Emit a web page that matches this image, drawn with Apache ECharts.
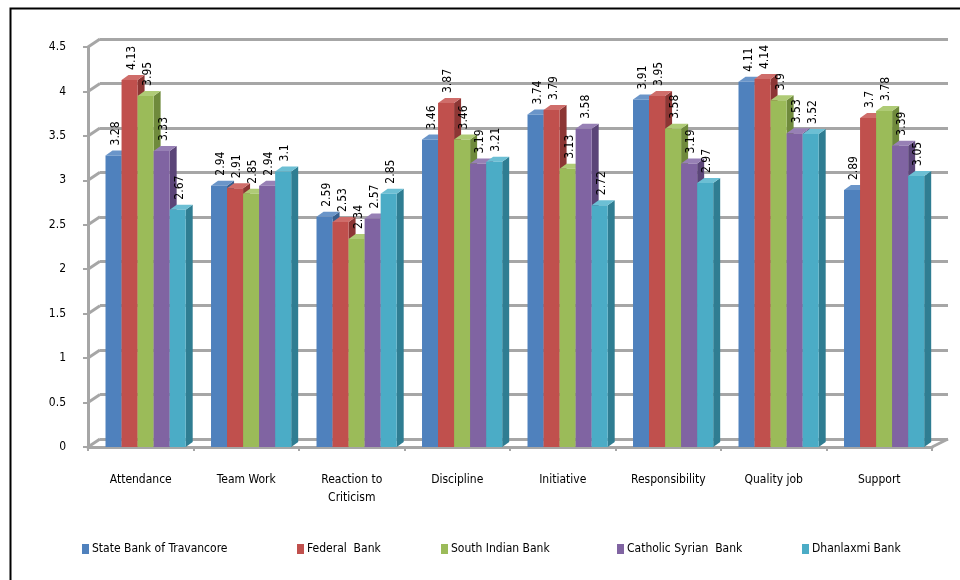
<!DOCTYPE html>
<html>
<head>
<meta charset="utf-8">
<script src="https://cdn.jsdelivr.net/npm/echarts@6/dist/echarts.min.js"></script>
<style>
  html, body { margin: 0; padding: 0; background: #fff; }
  #chart { width: 960px; height: 580px; }
</style>
</head>
<body>
<div id="chart"></div>
<script>
// Performance attribute scores by bank
const categories = ['Attendance', 'Team Work', 'Reaction to\nCriticism', 'Discipline', 'Initiative', 'Responsibility', 'Quality job', 'Support'];
const banks = ['State Bank of Travancore', 'Federal  Bank', 'South Indian Bank', 'Catholic Syrian  Bank', 'Dhanlaxmi Bank'];
const stateBankOfTravancore = [3.28, 2.94, 2.59, 3.46, 3.74, 3.91, 4.11, 2.89];
const federalBank = [4.13, 2.91, 2.53, 3.87, 3.79, 3.95, 4.14, 3.7];
const southIndianBank = [3.95, 2.85, 2.34, 3.46, 3.13, 3.58, 3.9, 3.78];
const catholicSyrianBank = [3.33, 2.94, 2.57, 3.19, 3.58, 3.19, 3.53, 3.39];
const dhanlaxmiBank = [2.67, 3.1, 2.85, 3.21, 2.72, 2.97, 3.52, 3.05];
const yTickValues = [0, 0.5, 1, 1.5, 2, 2.5, 3, 3.5, 4, 4.5];

const seriesValues = [stateBankOfTravancore, federalBank, southIndianBank, catholicSyrianBank, dhanlaxmiBank];

// front, side, top face colours
const palette = [
  ['#4F81BD', '#375E8E', '#6A95C9'],
  ['#C0504D', '#8C3634', '#CF6D6A'],
  ['#9BBB59', '#6F8A3C', '#AFCB76'],
  ['#8064A2', '#5B4578', '#9780B5'],
  ['#4BACC6', '#2F7D92', '#6CBFD4']
];

const FONT = "'Liberation Sans Narrow', 'DejaVu Sans Condensed', 'Roboto Condensed', sans-serif";
const DX = 7, DY = 5;          // bar depth
const WALL_DX = 12, WALL_DY = 8; // back wall offset

function barGeom(api, params, cat, idx, value) {
  const base = api.coord([cat, 0]);
  const top = api.coord([cat, value]);
  const bandW = params.coordSys.width / categories.length;
  const barW = bandW * 0.152;
  const x0 = base[0] - bandW / 2 + bandW * 0.166 + idx * barW;
  return { x0, barW, yTop: top[1], yBase: base[1] };
}

function makeBarSeries(idx) {
  const c = palette[idx];
  return {
    name: banks[idx],
    type: 'custom',
    xAxisIndex: 0, yAxisIndex: 0,
    z: 3,
    itemStyle: { color: c[0] },
    data: seriesValues[idx].map((v, i) => [i, v]),
    renderItem: function (params, api) {
      const cat = api.value(0), v = api.value(1);
      const g = barGeom(api, params, cat, idx, v);
      const xr = g.x0 + g.barW;
      return {
        type: 'group',
        children: [
          {
            type: 'polygon',
            shape: { points: [[xr, g.yTop], [xr + DX, g.yTop - DY], [xr + DX, g.yBase - DY], [xr, g.yBase]] },
            style: { fill: c[1] }
          },
          {
            type: 'polygon',
            shape: { points: [[g.x0, g.yTop], [g.x0 + DX, g.yTop - DY], [xr + DX, g.yTop - DY], [xr, g.yTop]] },
            style: { fill: c[2] }
          },
          {
            type: 'rect',
            shape: { x: g.x0, y: g.yTop, width: g.barW, height: g.yBase - g.yTop },
            style: { fill: c[0] }
          }
        ]
      };
    }
  };
}

// value labels drawn above every bar
const labelRows = [];
seriesValues.forEach((vals, s) => vals.forEach((v, i) => labelRows.push([i, s, v])));

const labelSeries = {
  name: 'value-labels',
  type: 'custom',
  xAxisIndex: 0, yAxisIndex: 0,
  z: 5,
  silent: true,
  data: labelRows,
  renderItem: function (params, api) {
    const cat = api.value(0), s = api.value(1), v = api.value(2);
    const g = barGeom(api, params, cat, s, v);
    return {
      type: 'text',
      x: g.x0 + g.barW / 2 + 2,
      y: g.yTop - 10,
      rotation: Math.PI / 2,
      style: {
        text: String(v),
        x: 0, y: 0,
        align: 'left',
        verticalAlign: 'middle',
        fill: '#000',
        font: '12px ' + FONT
      }
    };
  }
};

// diagonal edges joining the front axis to the back wall
const wallEdges = {
  name: 'wall-edges',
  type: 'custom',
  xAxisIndex: 0, yAxisIndex: 0,
  z: 1,
  silent: true,
  data: yTickValues.map(v => [0, v]),
  renderItem: function (params, api) {
    const v = api.value(1);
    const y = api.coord([0, v])[1];
    const x = params.coordSys.x;
    const children = [{
      type: 'line',
      shape: { x1: x, y1: y, x2: x + WALL_DX, y2: y - WALL_DY },
      style: { stroke: '#a6a6a6', lineWidth: 3 }
    }];
    if (v === 0) {
      const xr = params.coordSys.x + params.coordSys.width;
      children.push({
        type: 'line',
        shape: { x1: xr, y1: y, x2: xr + WALL_DX + 4, y2: y - WALL_DY },
        style: { stroke: '#a6a6a6', lineWidth: 3 }
      });
    }
    return { type: 'group', children };
  }
};

const legendLefts = [82, 297, 441, 617, 802];

const option = {
  animation: false,
  backgroundColor: '#fff',
  textStyle: { fontFamily: FONT },
  graphic: [{
    type: 'rect',
    left: 8, top: 6,
    shape: { width: 980, height: 600 },
    style: { fill: 'none', stroke: '#000', lineWidth: 2 },
    z: 0
  }],
  legend: banks.map((b, i) => ({
    data: [b],
    left: legendLefts[i],
    top: 543,
    padding: 0,
    icon: 'rect',
    itemWidth: 7,
    itemHeight: 10,
    itemGap: 4,
    textStyle: { fontFamily: FONT, fontSize: 12, color: '#000', padding: [0, 0, 0, -2] }
  })),
  grid: [
    { left: 88, right: 28, top: 47, bottom: 133 },
    { left: 88 + WALL_DX, right: 28 - WALL_DX - 4, top: 47 - WALL_DY, bottom: 133 + WALL_DY }
  ],
  xAxis: [
    {
      type: 'category', gridIndex: 0, data: categories,
      axisLine: { lineStyle: { color: '#a6a6a6', width: 3 } },
      axisTick: { show: true, length: 4, lineStyle: { color: '#a6a6a6', width: 2 } },
      axisLabel: { color: '#000', fontSize: 12, margin: 24, lineHeight: 18, fontFamily: FONT, interval: 0 },
      splitLine: { show: false }
    },
    {
      type: 'category', gridIndex: 1, data: categories,
      show: false
    }
  ],
  yAxis: [
    {
      type: 'value', gridIndex: 0, min: 0, max: 4.5, interval: 0.5,
      axisLine: { show: true, lineStyle: { color: '#a6a6a6', width: 3 } },
      axisTick: { show: true, length: 5, lineStyle: { color: '#a6a6a6', width: 2 } },
      axisLabel: { color: '#000', fontSize: 12, margin: 22, fontFamily: FONT },
      splitLine: { show: false }
    },
    {
      type: 'value', gridIndex: 1, min: 0, max: 4.5, interval: 0.5,
      axisLine: { show: false }, axisTick: { show: false }, axisLabel: { show: false },
      splitLine: { show: true, lineStyle: { color: '#a6a6a6', width: 3 } }
    }
  ],
  series: [wallEdges].concat(banks.map((b, i) => makeBarSeries(i))).concat([labelSeries])
};

const chart = echarts.init(document.getElementById('chart'), null, { renderer: 'canvas' });
chart.setOption(option);
</script>
</body>
</html>
